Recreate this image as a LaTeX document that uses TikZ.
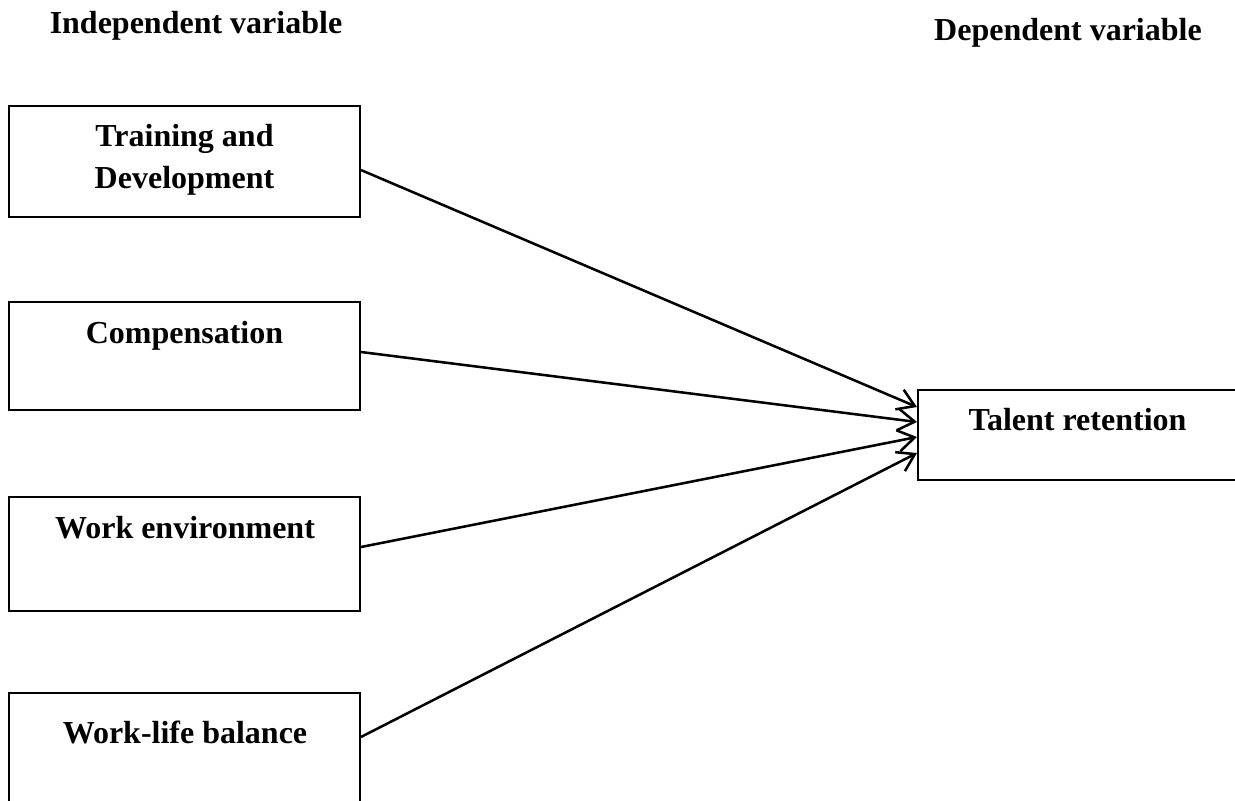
\documentclass[tikz,border=0pt]{standalone}
\usepackage{fontspec}
\setmainfont{Liberation Serif}
\usetikzlibrary{arrows.meta,positioning}

\begin{document}
\begin{tikzpicture}[
    x=0.75pt, y=-0.75pt,
    varbox/.style={draw, line width=1.5pt, minimum width=263.25pt, inner sep=0pt},
    vartext/.style={font=\bfseries\fontsize{24}{31.5}\selectfont, align=center, inner sep=0pt},
    link/.style={draw, line width=1.9pt, -{Straight Barb[length=12.5pt,width=16pt]}}
]
\useasboundingbox (0,0) rectangle (1235,800);

% headings
\node[vartext, anchor=base] (indep) at (196,33) {Independent variable};
\node[vartext, anchor=base] (dep) at (1068,40) {Dependent variable};

% independent variables
\node[varbox, minimum height=83.25pt] (train) at (184.5,161.5) {};
\node[varbox, minimum height=81pt] (comp) at (184.5,356) {};
\node[varbox, minimum height=85.5pt] (env) at (184.5,554) {};
\node[varbox, minimum height=87.75pt] (wlb) at (184.5,751.5) {};

\node[vartext] (trainlbl) at (184.5,159.5) {Training and\\Development};
\node[vartext, anchor=base] (complbl) at (184.5,343) {Compensation};
\node[vartext, anchor=base] (envlbl) at (185,538) {Work environment};
\node[vartext, anchor=base] (wlblbl) at (185,743) {Work-life balance};

% dependent variable
\node[varbox, minimum width=245.25pt, minimum height=67.5pt] (talent) at (1081.5,435) {};
\node[vartext, anchor=base] (talentlbl) at (1077.5,430) {Talent retention};

% links
\draw[link] ([yshift=-6.4pt]train.east) -- ([yshift=21pt]talent.west);
\draw[link] ([yshift=3pt]comp.east) -- ([yshift=9.75pt]talent.west);
\draw[link] ([yshift=5.25pt]env.east) -- ([yshift=-1.5pt]talent.west);
\draw[link] ([yshift=10.9pt]wlb.east) -- ([yshift=-13.5pt]talent.west);

\end{tikzpicture}
\end{document}
